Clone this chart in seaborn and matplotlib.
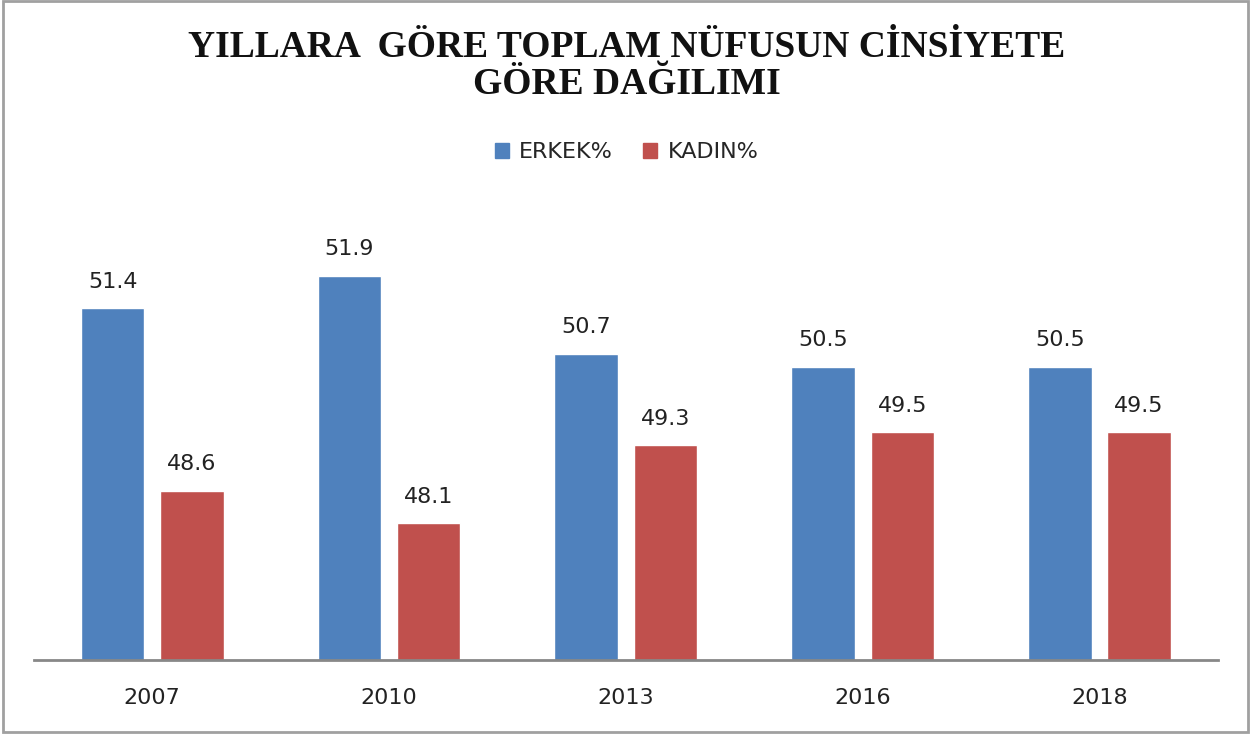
import matplotlib
matplotlib.use('Agg')
import matplotlib.pyplot as plt
import seaborn as sns
import pandas as pd
from matplotlib.patches import Rectangle

years = ['2007', '2010', '2013', '2016', '2018']
erkek = [51.4, 51.9, 50.7, 50.5, 50.5]
kadin = [48.6, 48.1, 49.3, 49.5, 49.5]
series = ['ERKEK%', 'KADIN%']
colors = ['#4F81BD', '#C0504D']

df = pd.DataFrame({
    'yil': years * 2,
    'oran': erkek + kadin,
    'cinsiyet': [series[0]] * len(years) + [series[1]] * len(years),
})

sns.set_style('white')
plt.rcParams['font.family'] = ['DejaVu Sans']

fig = plt.figure(figsize=(12.53, 7.35), dpi=100)
ax = fig.add_axes([0.027, 0.102, 0.945, 0.62])

sns.barplot(data=df, x='yil', y='oran', hue='cinsiyet', palette=colors,
            width=0.67, gap=0.2, ax=ax, legend=False, saturation=1)

ax.set_ylim(46, 53)
ax.set_xlim(-0.5, 4.5)
for c in ax.containers:
    ax.bar_label(c, fmt='%.1f', padding=12, fontsize=16, color='#222222')

for s in ['top', 'right', 'left']:
    ax.spines[s].set_visible(False)
ax.spines['bottom'].set_color('#888888')
ax.spines['bottom'].set_linewidth(2)
ax.set_yticks([])
ax.set_xlabel('')
ax.set_ylabel('')
ax.tick_params(axis='x', length=0, pad=20, labelsize=16, labelcolor='#222222')

fig.text(0.5, 0.91, 'YILLARA  GÖRE TOPLAM NÜFUSUN CİNSİYETE\nGÖRE DAĞILIMI',
         ha='center', va='center', fontsize=27, fontweight='bold',
         family='Liberation Serif', linespacing=1.05, color='#111111')

handles = [Rectangle((0, 0), 1, 1, color=c) for c in colors]
fig.legend(handles, series, loc='center', bbox_to_anchor=(0.5, 0.793), ncol=2,
           frameon=False, fontsize=16, handlelength=0.65, handleheight=0.65,
           columnspacing=1.35, handletextpad=0.45)

fig.add_artist(Rectangle((0.002, 0.004), 0.994, 0.994, transform=fig.transFigure,
                         fill=False, edgecolor='#A0A0A0', linewidth=2))

fig.savefig('out.png', dpi=100)
